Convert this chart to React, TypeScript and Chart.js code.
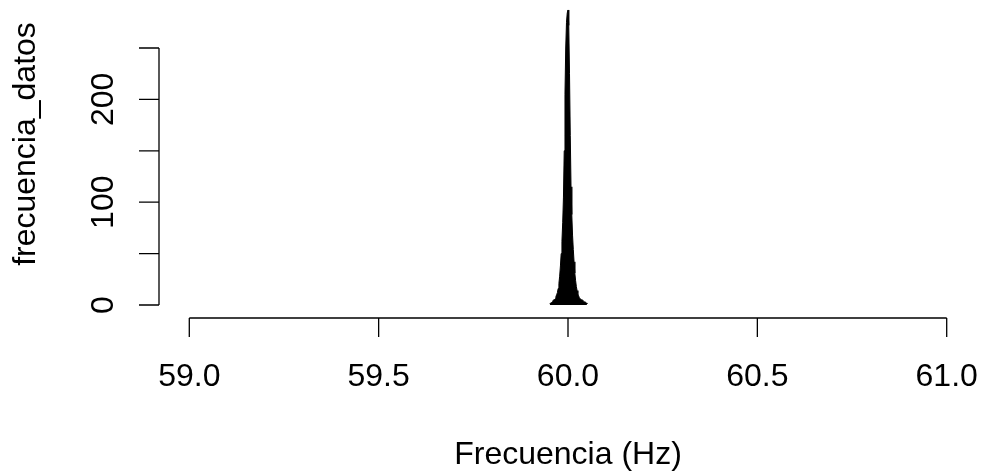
import React, { useEffect, useRef } from "react";
import { Chart, registerables, Plugin } from "chart.js";

Chart.register(...registerables);

// frequency values (Hz) and how many times each one was seen
const freqs = [
  59.952, 59.954, 59.956, 59.958, 59.96, 59.962, 59.964, 59.966, 59.968, 59.97,
  59.972, 59.974, 59.976, 59.978, 59.98, 59.982, 59.984, 59.986, 59.988, 59.99,
  59.992, 59.994, 59.996, 59.998, 60.0, 60.002, 60.004, 60.006, 60.008, 60.01,
  60.012, 60.014, 60.016, 60.018, 60.02, 60.022, 60.024, 60.026, 60.028, 60.03,
  60.032, 60.034, 60.036, 60.038, 60.04, 60.042, 60.044, 60.046, 60.048, 60.05,
];
const counts = [
  1, 2, 2, 3, 4, 5, 5, 6, 8, 10,
  12, 16, 21, 28, 38, 50, 62, 80, 105, 150,
  205, 250, 275, 284, 287, 272, 225, 165, 115, 88,
  68, 54, 42, 31, 24, 18, 14, 11, 9, 7,
  6, 6, 5, 5, 4, 4, 3, 3, 2, 1,
];

const xTicks = [59.0, 59.5, 60.0, 60.5, 61.0];
const yTicks = [0, 50, 100, 150, 200, 250];
const yLabels = [0, 100, 200];

const FONT = '32px "Liberation Sans", Arial, sans-serif';

// base-R style axes: lines only over the tick range, ticks pointing out
const rAxes: Plugin<"line"> = {
  id: "rAxes",
  afterDraw(chart) {
    const { ctx } = chart;
    const xs = chart.scales.x;
    const ys = chart.scales.y;
    const left = chart.chartArea.left;
    const bottom = chart.chartArea.bottom;
    const tick = 20;

    ctx.save();
    ctx.strokeStyle = "#000";
    ctx.fillStyle = "#000";
    ctx.lineWidth = 1.3;
    ctx.font = FONT;

    // y axis
    ctx.beginPath();
    ctx.moveTo(left, ys.getPixelForValue(yTicks[0]));
    ctx.lineTo(left, ys.getPixelForValue(yTicks[yTicks.length - 1]));
    yTicks.forEach((v) => {
      const py = ys.getPixelForValue(v);
      ctx.moveTo(left, py);
      ctx.lineTo(left - tick, py);
    });
    ctx.stroke();

    yLabels.forEach((v) => {
      const py = ys.getPixelForValue(v);
      ctx.save();
      ctx.translate(113, py);
      ctx.rotate(-Math.PI / 2);
      ctx.textAlign = "center";
      ctx.textBaseline = "alphabetic";
      ctx.fillText(String(v), 0, 0);
      ctx.restore();
    });

    // x axis
    ctx.beginPath();
    ctx.moveTo(xs.getPixelForValue(xTicks[0]), bottom);
    ctx.lineTo(xs.getPixelForValue(xTicks[xTicks.length - 1]), bottom);
    xTicks.forEach((v) => {
      const px = xs.getPixelForValue(v);
      ctx.moveTo(px, bottom);
      ctx.lineTo(px, bottom + 19);
    });
    ctx.stroke();

    ctx.textAlign = "center";
    ctx.textBaseline = "alphabetic";
    xTicks.forEach((v) => {
      ctx.fillText(v.toFixed(1), xs.getPixelForValue(v), 386);
    });

    // titles
    const midX = (chart.chartArea.left + chart.chartArea.right) / 2;
    ctx.fillText("Frecuencia (Hz)", midX, 464);

    ctx.save();
    ctx.translate(35, 144);
    ctx.rotate(-Math.PI / 2);
    ctx.fillText("frecuencia_datos", 0, 0);
    ctx.restore();

    ctx.restore();
  },
};

const App: React.FC = () => {
  const chartRef = useRef<HTMLCanvasElement>(null);

  useEffect(() => {
    if (!chartRef.current) return;

    const chart = new Chart(chartRef.current, {
      type: "line",
      data: {
        datasets: [
          {
            label: "frecuencia_datos",
            data: freqs.map((f, i) => ({ x: f, y: counts[i] })),
            borderColor: "#000",
            backgroundColor: "#000",
            borderWidth: 1,
            fill: "origin",
            pointRadius: 0,
            tension: 0,
          },
        ],
      },
      options: {
        animation: false,
        responsive: true,
        maintainAspectRatio: false,
        layout: {
          padding: { left: 159, right: 5, top: 0, bottom: 154 },
        },
        scales: {
          x: { type: "linear", min: 58.92, max: 61.08, display: false },
          y: { type: "linear", min: -12.65, max: 296.7, display: false },
        },
        plugins: {
          legend: { display: false },
          tooltip: { enabled: false },
        },
      },
      plugins: [rAxes],
    });

    return () => {
      chart.destroy();
    };
  }, []);

  return (
    <div
      style={{
        position: "fixed",
        left: 0,
        top: 0,
        width: 982,
        height: 472,
        background: "#fff",
      }}
    >
      <canvas ref={chartRef} />
    </div>
  );
};

export default App;
